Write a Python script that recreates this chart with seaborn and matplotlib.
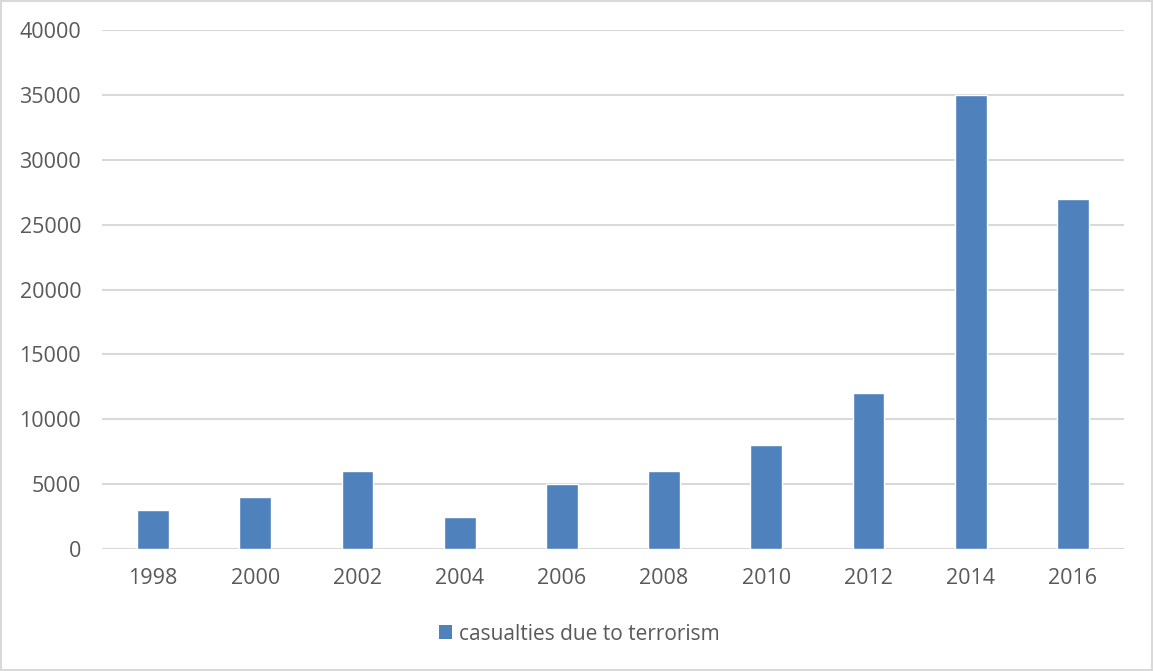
import matplotlib
matplotlib.use("Agg")
import matplotlib.pyplot as plt
from matplotlib.patches import Rectangle
import seaborn as sns
import pandas as pd

years = ["1998", "2000", "2002", "2004", "2006", "2008", "2010", "2012", "2014", "2016"]
casualties = [3000, 4000, 6000, 2500, 5000, 6000, 8000, 12000, 35000, 27000]
series_name = "casualties due to terrorism"
y_ticks = [0, 5000, 10000, 15000, 20000, 25000, 30000, 35000, 40000]

sns.set_theme(style="white")
plt.rcParams["font.family"] = ["Open Sans", "DejaVu Sans"]

bar_color = "#4F81BD"
text_color = "#595959"
grid_color = "#D9D9D9"

df = pd.DataFrame({"year": years, "casualties": casualties})

fig = plt.figure(figsize=(11.53, 6.71), dpi=100)
ax = fig.add_axes([102 / 1153, 1 - 549 / 671, 1022 / 1153, 519 / 671])

sns.barplot(data=df, x="year", y="casualties", color=bar_color, width=0.31,
            saturation=1, ax=ax, label=series_name, zorder=3)

ax.set_ylim(0, 40000)
ax.set_xlim(-0.5, len(years) - 0.5)
ax.set_yticks(y_ticks)
ax.set_yticklabels([str(v) for v in y_ticks])
ax.yaxis.grid(True, color=grid_color, linewidth=1.5, zorder=0)
ax.xaxis.grid(False)
ax.set_axisbelow(True)
for s in ax.spines.values():
    s.set_visible(False)
ax.set_xlabel("")
ax.set_ylabel("")
ax.tick_params(axis="y", length=0, pad=15, labelsize=15.5, labelcolor=text_color)
ax.tick_params(axis="x", length=0, pad=14, labelsize=15.5, labelcolor=text_color)
if ax.get_legend() is not None:
    ax.get_legend().remove()

handles = [Rectangle((0, 0), 1, 1, facecolor=bar_color, edgecolor="none")]
fig.legend(handles, [series_name], loc="center", bbox_to_anchor=(579 / 1153, 1 - 634 / 671),
           frameon=False, fontsize=15, labelcolor=text_color, handlelength=0.65,
           handleheight=0.65, handletextpad=0.3)

# thin frame around the whole chart
fig.patches.append(Rectangle((0.001, 0.001), 0.998, 0.997, transform=fig.transFigure,
                             fill=False, edgecolor=grid_color, linewidth=1.5))

fig.savefig("out.png", dpi=100, facecolor="white")
